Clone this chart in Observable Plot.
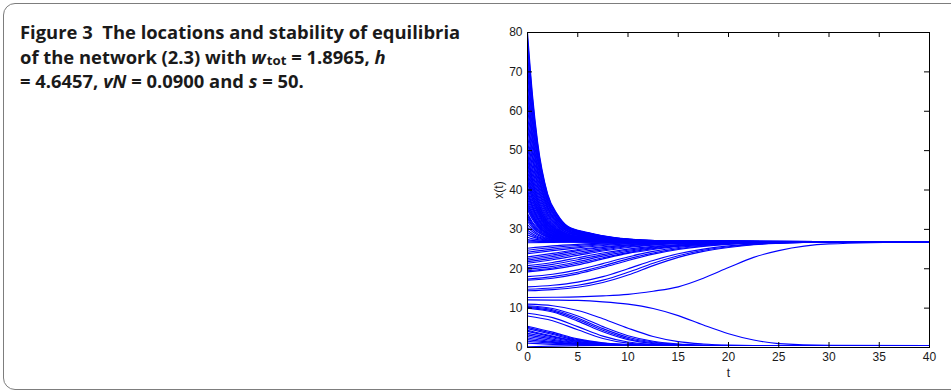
<!DOCTYPE html>
<html><head><meta charset="utf-8">
<script src="https://cdn.jsdelivr.net/npm/d3@7"></script>
<script src="https://cdn.jsdelivr.net/npm/@observablehq/plot@0.6"></script>
<style>
html,body{margin:0;padding:0;background:#fff;overflow:hidden;}
body{width:951px;height:392px;position:relative;}
#box{position:absolute;left:3px;top:3px;width:1000px;height:385px;border:1px solid #7d7d7d;border-radius:12px;}
#caption{position:absolute;left:20px;top:20px;font-family:"Open Sans",Lato,sans-serif;font-weight:700;font-size:18.4px;line-height:24.5px;color:#1a1a1a;white-space:nowrap;}
#caption .ln{height:24.5px;}
#caption sub{font-size:0.72em;line-height:0;vertical-align:-0.1em;margin-left:1px;}
#chart{position:absolute;left:470px;top:20px;}
</style></head><body>
<div id="box"></div>
<div id="caption"><div class="ln">Figure 3&nbsp;&nbsp;The locations and stability of equilibria</div><div class="ln">of the network (2.3) with <i>w</i><sub>tot</sub> = 1.8965, <i>h</i></div><div class="ln">= 4.6457, <i>vN</i> = 0.0900 and <i>s</i> = 50.</div></div>
<div id="chart"></div>
<script>
// time grids
const tA = [0, 0.5, 1, 2, 3, 4, 6, 9, 14, 40];
const tB = [0, 2.5, 5, 7.5, 10, 12.5, 15, 17.5, 20, 22.5, 25, 30, 40];
const xTicks = [0, 5, 10, 15, 20, 25, 30, 35, 40];
const yTicks = [0, 10, 20, 30, 40, 50, 60, 70, 80];

// trajectories starting above the upper equilibrium (values at tA)
const decayLines = [
[80, 64.0, 52.3, 39.0, 33.7, 30.8, 29.2, 27.8, 27.1, 26.8],
[78.5, 63.0, 51.6, 38.7, 33.5, 30.7, 29.1, 27.75, 27.05, 26.8],
[77, 61.9, 50.9, 38.3, 33.3, 30.6, 29.1, 27.7, 27.05, 26.8],
[75, 60.5, 49.9, 37.9, 33.1, 30.4, 29.0, 27.7, 27.05, 26.8],
[73, 59.1, 49.0, 37.4, 32.8, 30.3, 28.9, 27.6, 27.05, 26.8],
[71.5, 58.1, 48.3, 37.1, 32.6, 30.2, 28.8, 27.6, 27.0, 26.8],
[70, 57.0, 47.5, 36.7, 32.4, 30.0, 28.7, 27.6, 27.0, 26.8],
[68, 55.6, 46.6, 36.3, 32.2, 29.9, 28.7, 27.5, 27.0, 26.8],
[66, 54.2, 45.6, 35.8, 31.9, 29.7, 28.6, 27.5, 27.0, 26.8],
[64.5, 53.2, 44.9, 35.5, 31.7, 29.6, 28.5, 27.5, 27.0, 26.8],
[63, 52.1, 44.2, 35.1, 31.5, 29.5, 28.4, 27.45, 27.0, 26.8],
[61, 50.7, 43.2, 34.7, 31.2, 29.4, 28.3, 27.4, 27.0, 26.8],
[59, 49.3, 42.3, 34.2, 31.0, 29.2, 28.25, 27.4, 26.95, 26.8],
[57.5, 48.3, 41.5, 33.9, 30.8, 29.1, 28.2, 27.35, 26.95, 26.8],
[56, 47.2, 40.8, 33.5, 30.6, 29.0, 28.1, 27.3, 26.95, 26.8],
[54, 45.8, 39.9, 33.1, 30.3, 28.8, 28.0, 27.3, 26.95, 26.8],
[52.5, 44.8, 39.1, 32.7, 30.1, 28.7, 28.0, 27.25, 26.95, 26.8],
[51, 43.7, 38.4, 32.4, 29.9, 28.6, 27.9, 27.25, 26.9, 26.8],
[49.5, 42.7, 37.7, 32.0, 29.8, 28.5, 27.8, 27.2, 26.9, 26.8],
[49, 42.3, 37.5, 31.9, 29.7, 28.5, 27.8, 27.2, 26.9, 26.8],
[48, 41.6, 37.0, 31.7, 29.6, 28.4, 27.75, 27.2, 26.9, 26.8],
[47, 40.9, 36.5, 31.4, 29.45, 28.35, 27.7, 27.15, 26.9, 26.8],
[46, 40.2, 36.0, 31.2, 29.3, 28.25, 27.65, 27.15, 26.9, 26.8],
[45, 39.5, 35.5, 31.0, 29.2, 28.2, 27.6, 27.1, 26.9, 26.8],
[44, 38.8, 35.1, 30.8, 29.0, 28.1, 27.55, 27.1, 26.9, 26.8],
[43.5, 38.5, 34.8, 30.6, 29.0, 28.1, 27.55, 27.1, 26.9, 26.8],
[42.6, 37.8, 34.4, 30.4, 28.9, 28.0, 27.5, 27.1, 26.9, 26.8],
[42, 37.4, 34.1, 30.3, 28.8, 27.9, 27.5, 27.1, 26.9, 26.8],
[41, 36.7, 33.6, 30.1, 28.7, 27.9, 27.45, 27.05, 26.85, 26.8],
[40, 36.0, 33.1, 29.8, 28.5, 27.8, 27.4, 27.05, 26.85, 26.8],
[39.7, 35.8, 33.0, 29.8, 28.5, 27.8, 27.4, 27.05, 26.85, 26.8],
[39.2, 35.5, 32.7, 29.7, 28.4, 27.75, 27.35, 27.0, 26.85, 26.8],
[38.5, 35.0, 32.4, 29.5, 28.3, 27.7, 27.3, 27.0, 26.85, 26.8],
[37.8, 34.4, 32.0, 29.3, 28.2, 27.65, 27.3, 27.0, 26.85, 26.8],
[37, 33.9, 31.7, 29.2, 28.1, 27.6, 27.25, 27.0, 26.85, 26.8],
[36.5, 33.6, 31.5, 29.0, 28.05, 27.55, 27.25, 27.0, 26.85, 26.8],
[36, 33.2, 31.2, 28.9, 28.0, 27.5, 27.2, 26.95, 26.85, 26.8],
[35.5, 32.9, 31.0, 28.8, 27.95, 27.45, 27.2, 26.95, 26.85, 26.8],
[35, 32.5, 30.7, 28.7, 27.9, 27.4, 27.15, 26.95, 26.85, 26.8],
[34, 31.8, 30.3, 28.5, 27.7, 27.3, 27.1, 26.95, 26.85, 26.8],
[33.5, 31.5, 30.0, 28.35, 27.65, 27.3, 27.1, 26.9, 26.8, 26.8],
[33, 31.1, 29.8, 28.2, 27.6, 27.3, 27.1, 26.9, 26.85, 26.8],
[32.5, 30.8, 29.5, 28.1, 27.55, 27.25, 27.05, 26.9, 26.8, 26.8],
[32, 30.4, 29.3, 28.0, 27.5, 27.2, 27.05, 26.9, 26.8, 26.8],
[31.2, 29.9, 28.9, 27.8, 27.4, 27.1, 27.0, 26.9, 26.8, 26.8],
[30.5, 29.4, 28.6, 27.65, 27.3, 27.1, 26.95, 26.85, 26.8, 26.8],
[29.8, 28.9, 28.2, 27.5, 27.2, 27.0, 26.95, 26.85, 26.8, 26.8],
[29.2, 28.5, 27.95, 27.35, 27.1, 27.0, 26.9, 26.85, 26.8, 26.8],
[28.6, 28.1, 27.7, 27.2, 27.0, 26.95, 26.9, 26.8, 26.8, 26.8],
[28.0, 27.6, 27.4, 27.1, 27.0, 26.9, 26.85, 26.8, 26.8, 26.8],
[27.4, 27.2, 27.1, 26.95, 26.9, 26.85, 26.8, 26.8, 26.8, 26.8]
];

// trajectories rising to the upper equilibrium (values at tB)
const riseLines = [
[27.0, 26.9, 26.85, 26.8, 26.8, 26.8, 26.8, 26.8, 26.8, 26.8, 26.8, 26.8, 26.8],
[26.6, 26.7, 26.75, 26.8, 26.8, 26.8, 26.8, 26.8, 26.8, 26.8, 26.8, 26.8, 26.8],
[25.2, 25.8, 26.2, 26.5, 26.65, 26.75, 26.8, 26.8, 26.8, 26.8, 26.8, 26.8, 26.8],
[24.7, 25.4, 25.9, 26.3, 26.55, 26.7, 26.75, 26.8, 26.8, 26.8, 26.8, 26.8, 26.8],
[24.2, 25.0, 25.6, 26.1, 26.4, 26.6, 26.7, 26.8, 26.8, 26.8, 26.8, 26.8, 26.8],
[23.8, 24.6, 25.3, 25.9, 26.3, 26.5, 26.65, 26.75, 26.8, 26.8, 26.8, 26.8, 26.8],
[23.0, 23.9, 24.9, 25.6, 26.1, 26.4, 26.6, 26.7, 26.8, 26.8, 26.8, 26.8, 26.8],
[22.6, 23.5, 24.6, 25.4, 26.0, 26.35, 26.55, 26.7, 26.8, 26.8, 26.8, 26.8, 26.8],
[22.2, 23.1, 24.2, 25.1, 25.8, 26.25, 26.5, 26.65, 26.75, 26.8, 26.8, 26.8, 26.8],
[21.8, 22.7, 23.8, 24.8, 25.6, 26.1, 26.45, 26.6, 26.7, 26.8, 26.8, 26.8, 26.8],
[21.4, 22.3, 23.4, 24.5, 25.4, 26.0, 26.4, 26.6, 26.7, 26.8, 26.8, 26.8, 26.8],
[20.8, 21.6, 22.8, 24.0, 25.0, 25.7, 26.15, 26.45, 26.6, 26.7, 26.8, 26.8, 26.8],
[20.3, 21.1, 22.3, 23.6, 24.7, 25.5, 26.0, 26.35, 26.55, 26.7, 26.8, 26.8, 26.8],
[19.9, 20.6, 21.8, 23.2, 24.4, 25.3, 25.9, 26.3, 26.5, 26.7, 26.75, 26.8, 26.8],
[19.5, 20.2, 21.4, 22.8, 24.1, 25.1, 25.8, 26.2, 26.5, 26.65, 26.75, 26.8, 26.8],
[19.2, 19.9, 21.0, 22.5, 23.9, 24.9, 25.7, 26.15, 26.45, 26.65, 26.75, 26.8, 26.8],
[18.0, 18.6, 19.7, 21.3, 23.0, 24.4, 25.4, 26.0, 26.4, 26.6, 26.7, 26.8, 26.8],
[17.4, 18.0, 19.1, 20.7, 22.5, 24.0, 25.1, 25.85, 26.3, 26.55, 26.7, 26.8, 26.8],
[17.1, 17.6, 18.7, 20.3, 22.1, 23.7, 24.9, 25.7, 26.2, 26.5, 26.7, 26.8, 26.8],
[15.4, 15.8, 16.6, 18.0, 20.0, 22.1, 23.8, 25.0, 25.8, 26.3, 26.55, 26.75, 26.8],
[14.8, 15.1, 15.8, 17.1, 19.1, 21.4, 23.3, 24.7, 25.6, 26.2, 26.5, 26.75, 26.8],
[14.4, 14.7, 15.3, 16.5, 18.4, 20.8, 22.9, 24.4, 25.4, 26.1, 26.45, 26.75, 26.8],
[12.7, 12.75, 12.85, 13.1, 13.5, 14.3, 15.4, 17.6, 20.3, 22.9, 24.6, 26.3, 26.8]
];

// trajectories falling to the lower equilibrium (values at tB)
const fallLines = [
[12.1, 12.05, 11.95, 11.6, 11.0, 9.9, 8.1, 5.7, 3.5, 1.9, 1.0, 0.55, 0.5],
[11.0, 10.6, 9.4, 7.3, 4.9, 2.8, 1.5, 0.9, 0.6, 0.5, 0.5, 0.5, 0.5],
[10.6, 9.9, 8.0, 5.3, 3.0, 1.6, 0.9, 0.6, 0.5, 0.5, 0.5, 0.5, 0.5],
[10.4, 9.6, 7.5, 4.8, 2.6, 1.4, 0.8, 0.55, 0.5, 0.5, 0.5, 0.5, 0.5],
[10.2, 9.3, 7.1, 4.4, 2.3, 1.2, 0.7, 0.5, 0.5, 0.5, 0.5, 0.5, 0.5],
[10.0, 9.0, 6.7, 4.0, 2.0, 1.0, 0.65, 0.5, 0.5, 0.5, 0.5, 0.5, 0.5],
[8.7, 7.6, 5.3, 2.9, 1.4, 0.8, 0.6, 0.5, 0.5, 0.5, 0.5, 0.5, 0.5],
[8.0, 6.8, 4.5, 2.3, 1.1, 0.7, 0.55, 0.5, 0.5, 0.5, 0.5, 0.5, 0.5],
[5.4, 3.9, 2.2, 1.2, 0.75, 0.6, 0.5, 0.5, 0.5, 0.5, 0.5, 0.5, 0.5],
[5.1, 3.6, 2.0, 1.1, 0.7, 0.55, 0.5, 0.5, 0.5, 0.5, 0.5, 0.5, 0.5],
[4.8, 3.3, 1.8, 1.0, 0.65, 0.5, 0.5, 0.5, 0.5, 0.5, 0.5, 0.5, 0.5],
[4.4, 2.9, 1.6, 0.9, 0.6, 0.5, 0.5, 0.5, 0.5, 0.5, 0.5, 0.5, 0.5],
[4.1, 2.7, 1.5, 0.85, 0.6, 0.5, 0.5, 0.5, 0.5, 0.5, 0.5, 0.5, 0.5],
[3.6, 2.4, 1.3, 0.8, 0.55, 0.5, 0.5, 0.5, 0.5, 0.5, 0.5, 0.5, 0.5],
[3.2, 2.1, 1.2, 0.75, 0.55, 0.5, 0.5, 0.5, 0.5, 0.5, 0.5, 0.5, 0.5],
[2.8, 1.8, 1.05, 0.7, 0.5, 0.5, 0.5, 0.5, 0.5, 0.5, 0.5, 0.5, 0.5],
[2.4, 1.5, 0.95, 0.65, 0.5, 0.5, 0.5, 0.5, 0.5, 0.5, 0.5, 0.5, 0.5],
[2.0, 1.3, 0.85, 0.6, 0.5, 0.5, 0.5, 0.5, 0.5, 0.5, 0.5, 0.5, 0.5],
[1.6, 1.1, 0.75, 0.55, 0.5, 0.5, 0.5, 0.5, 0.5, 0.5, 0.5, 0.5, 0.5],
[1.1, 0.8, 0.6, 0.5, 0.5, 0.5, 0.5, 0.5, 0.5, 0.5, 0.5, 0.5, 0.5],
[0.2, 0.35, 0.45, 0.5, 0.5, 0.5, 0.5, 0.5, 0.5, 0.5, 0.5, 0.5, 0.5]
];

const rows = [];
decayLines.forEach((vals, i) => vals.forEach((v, j) => rows.push({id: "d" + i, t: tA[j], x: v})));
riseLines.forEach((vals, i) => vals.forEach((v, j) => rows.push({id: "r" + i, t: tB[j], x: v})));
fallLines.forEach((vals, i) => vals.forEach((v, j) => rows.push({id: "f" + i, t: tB[j], x: v})));

const W = 470, H = 370, mL = 57, mR = 11, mT = 12, mB = 43;
const innerH = H - mT - mB, innerW = W - mL - mR, tk = 5;

const chart = Plot.plot({
  width: W, height: H,
  marginLeft: mL, marginRight: mR, marginTop: mT, marginBottom: mB,
  style: {fontFamily: "'Liberation Sans', Arial, sans-serif", fontSize: "12px", color: "#1a1a1a", background: "transparent"},
  x: {domain: [0, 40]},
  y: {domain: [0, 80]},
  marks: [
    Plot.line(rows, {x: "t", y: "x", z: "id", stroke: "#0000ff", strokeWidth: 1.15, curve: "monotone-x", clip: true}),
    Plot.frame({stroke: "#000", strokeWidth: 1}),
    Plot.tickX(xTicks.slice(1, -1), {x: d => d, insetTop: innerH - tk, stroke: "#000"}),
    Plot.tickX(xTicks.slice(1, -1), {x: d => d, insetBottom: innerH - tk, stroke: "#000"}),
    Plot.tickY(yTicks.slice(1, -1), {y: d => d, insetRight: innerW - tk, stroke: "#000"}),
    Plot.tickY(yTicks.slice(1, -1), {y: d => d, insetLeft: innerW - tk, stroke: "#000"}),
    Plot.axisX({ticks: xTicks, tickSize: 0, tickPadding: 5, label: "t", labelAnchor: "center", labelArrow: "none", labelOffset: 29, fontSize: 12}),
    Plot.axisY({ticks: yTicks, tickSize: 0, tickPadding: 5, label: "x(t)", labelAnchor: "center", labelArrow: "none", labelOffset: 33, fontSize: 12})
  ]
});
document.getElementById("chart").appendChild(chart);
</script>
</body></html>
